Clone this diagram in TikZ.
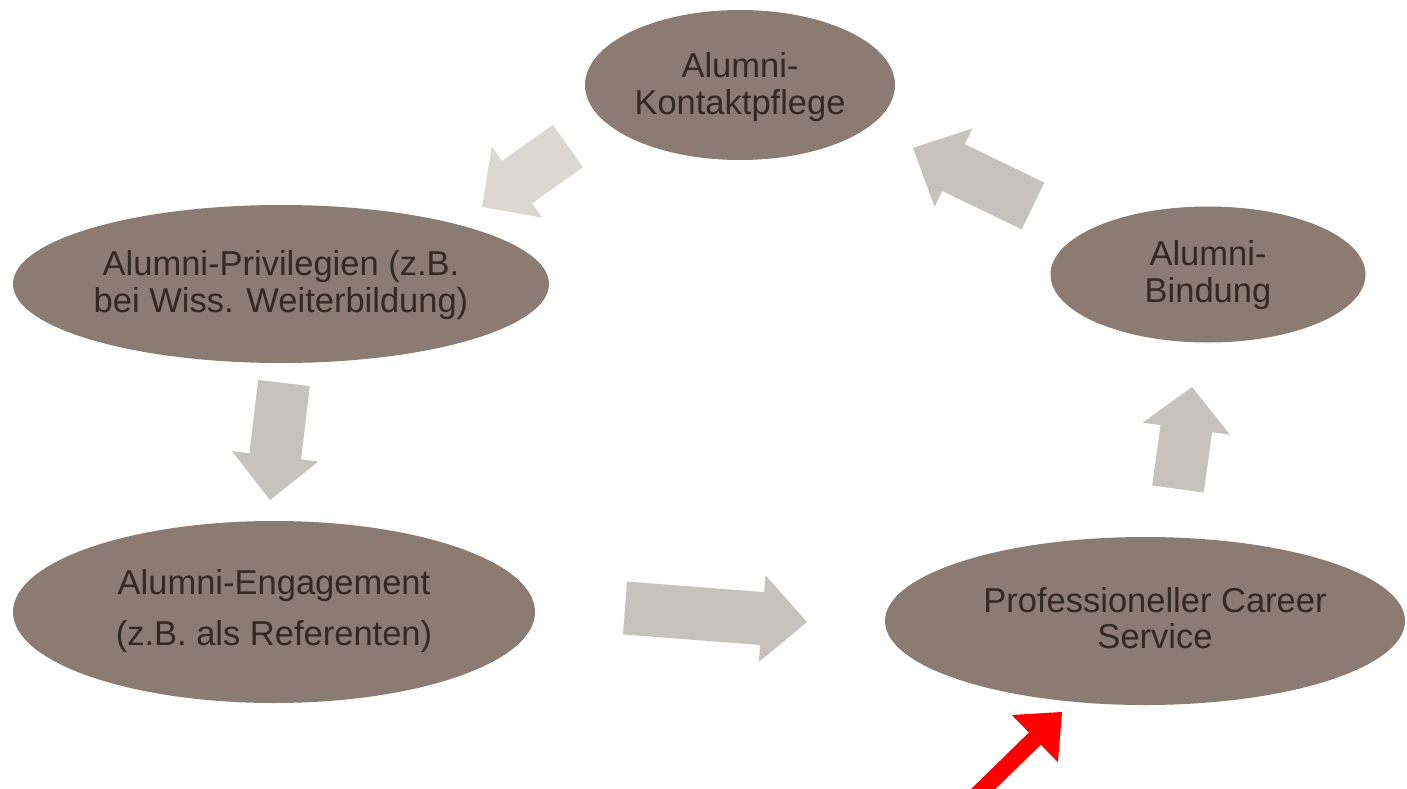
\documentclass[tikz,border=0pt]{standalone}
\usepackage{fontspec}
\setmainfont{Liberation Sans}
\usetikzlibrary{shapes.geometric,calc}
\definecolor{ellfill}{HTML}{8B7B70}
\definecolor{elltext}{HTML}{33291F}
\definecolor{arrlight}{HTML}{DBD7D3}
\definecolor{arrgrey}{HTML}{C6C2BE}
\definecolor{arrred}{HTML}{FF0000}
\newcommand\barrow[7]{%
  \coordinate (#1-tail) at (#2);
  \coordinate (#1-tip) at (#3);
  \coordinate (#1-neck) at ($(#1-tip)!#6!(#1-tail)$);
  \fill[#7] ($(#1-tail)!#4!90:(#1-tip)$) -- ($(#1-neck)!#4!90:(#1-tip)$)
    -- ($(#1-neck)!#5!90:(#1-tip)$) -- (#1-tip)
    -- ($(#1-neck)!#5!-90:(#1-tip)$) -- ($(#1-neck)!#4!-90:(#1-tip)$)
    -- ($(#1-tail)!#4!-90:(#1-tip)$) -- cycle;}
\begin{document}
\begin{tikzpicture}[x=1pt,y=-1pt,
  ell/.style={ellipse,fill=ellfill,draw=none,inner sep=0pt},
  lbl/.style={text=elltext,align=center,inner sep=0pt,
    font=\fontsize{34.5}{36.5}\selectfont}]
\useasboundingbox (0,0) rectangle (1407,789);
\clip (0,0) rectangle (1407,789);
\fill[white] (0,0) rectangle (1407,789);

% ellipses
\node[ell,minimum width=310pt,minimum height=150pt] (kon) at (740,85) {};
\node[ell,minimum width=536pt,minimum height=158pt] (pri) at (281,284) {};
\node[ell,minimum width=522pt,minimum height=182pt] (eng) at (274,612) {};
\node[ell,minimum width=520pt,minimum height=168pt] (car) at (1145,621) {};
\node[ell,minimum width=315pt,minimum height=136pt] (bin) at (1208,274.5) {};

% texts
\node[lbl] (tkon) at ($(kon.center)+(0,2)$) {Alumni-\\Kontaktpflege};
\node[lbl] (tpri) at ($(pri.center)+(0,1)$) {Alumni-Privilegien (z.B.\\bei Wiss. Weiterbildung)};
\node[lbl,font=\fontsize{34.5}{51}\selectfont] (teng) at ($(eng.center)+(0,-1)$) {Alumni-Engagement\\(z.B. als Referenten)};
\node[lbl] (tcar) at ($(car.center)+(10,-3)$) {Professioneller Career\\Service};
\node[lbl] (tbin) at ($(bin.center)+(0,0.5)$) {Alumni-\\Bindung};

% block arrows
\barrow{a1}{568,146}{482,207}{26pt}{43.5pt}{43pt}{arrlight}
\barrow{a2}{1033,206}{913,148}{26pt}{43.5pt}{45pt}{arrgrey}
\barrow{a3}{284,383}{270,500}{26pt}{43.5pt}{44pt}{arrgrey}
\barrow{a4}{625,608}{807,622}{26.5pt}{43.5pt}{45pt}{arrgrey}
\barrow{a5}{1178,489}{1192,387}{26pt}{44pt}{42pt}{arrgrey}
\barrow{ar}{973,799}{1062,712}{8.5pt}{33pt}{38pt}{arrred}
\end{tikzpicture}
\end{document}
